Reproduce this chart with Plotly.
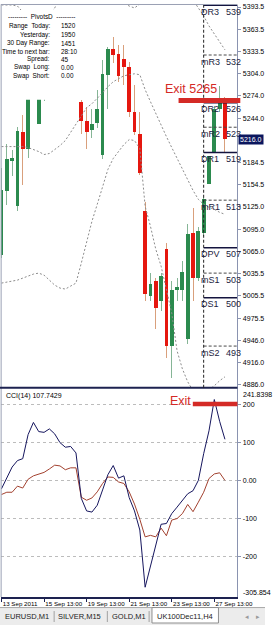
import numpy as np
import plotly.graph_objects as go

W, H = 279, 625

# ---------------- data ----------------
bar_index = list(range(43))
opens  = [5061, 5146, 5186, 5126, 5226, 5203, 5300, 5237, 5335, 5350,
          5372, 5360, 5378, 5365, 5375, 5266, 5240, 5228, 5238, 5195,
          5302, 5337, 5331, 5324, 5313, 5253, 5223, 5120, 5005, 5025,
          4998, 5069, 4938, 5013, 5014, 4948, 5090, 5029, 5090, 5156,
          5199, 5256, 5270]
highs  = [5177, 5209, 5202, 5232, 5248, 5300, 5310, 5345, 5365, 5380,
          5384, 5385, 5384, 5382, 5380, 5269, 5259, 5256, 5282, 5322,
          5340, 5353, 5343, 5343, 5320, 5289, 5253, 5132, 5036, 5029,
          5036, 5076, 5025, 5029, 5052, 5102, 5123, 5098, 5138, 5199,
          5260, 5288, 5273]
lows   = [5056, 5128, 5166, 5119, 5154, 5190, 5272, 5236, 5267, 5340,
          5350, 5352, 5358, 5355, 5330, 5223, 5203, 5217, 5231, 5189,
          5256, 5318, 5293, 5289, 5246, 5222, 5168, 4998, 4998, 4961,
          4985, 4922, 4895, 4998, 4998, 4941, 4998, 5025, 5086, 5139,
          5197, 5252, 5199]
closes = [5148, 5189, 5191, 5227, 5203, 5290, 5275, 5335, 5350, 5372,
          5360, 5378, 5365, 5375, 5350, 5241, 5226, 5237, 5257, 5304,
          5337, 5329, 5301, 5313, 5253, 5226, 5170, 5008, 5022, 4989,
          5032, 4938, 5014, 5017, 5038, 5088, 5029, 5093, 5135, 5193,
          5256, 5266, 5216]

bb_upper = [5396.2, 5396.2, 5396.2, 5394.8, 5386.8, 5382.8, 5381.5, 5381.5, 5381.5, 5382.8,
            5392.2, 5406.9, 5420.3, 5433.7, 5443.0, 5447.1, 5440.4, 5429.7, 5420.3, 5413.6,
            5408.2, 5404.2, 5401.5, 5398.9, 5394.8, 5392.2, 5397.5, 5440.4, 5453.8, 5460.5,
            5453.8, 5447.1, 5440.4, 5433.7, 5427.0, 5413.6, 5402.9, 5392.2, 5381.5, 5368.1,
            5357.3, 5346.6, 5336.0]
bb_middle = [5206.0, 5206.0, 5206.0, 5206.0, 5206.0, 5204.7, 5202.0, 5199.3, 5195.3, 5196.7,
             5202.0, 5207.4, 5214.1, 5224.8, 5236.8, 5247.5, 5258.2, 5263.6, 5270.3, 5278.3,
             5286.4, 5293.1, 5297.1, 5301.1, 5302.5, 5303.8, 5302.5, 5282.4, 5266.3, 5250.2,
             5234.2, 5219.4, 5204.7, 5190.0, 5175.3, 5161.9, 5147.1, 5135.1, 5128.4, 5124.4,
             5121.7, 5117.7, 5115.0]
bb_lower = [5022.6, 5024.0, 5025.3, 5026.6, 5029.3, 5032.0, 5034.7, 5036.0, 5033.3, 5026.6,
            5019.9, 5015.9, 5014.6, 5018.6, 5022.6, 5049.4, 5078.8, 5105.6, 5128.4, 5152.5,
            5175.3, 5190.0, 5199.4, 5208.7, 5215.4, 5214.1, 5203.4, 5125.7, 5098.9, 5068.1,
            5045.4, 5011.9, 4982.4, 4931.6, 4907.4, 4890.0, 4878.0, 4872.6, 4875.3, 4879.3,
            4884.7, 4891.4, 4896.7]

cci_main = [-22, 8, 35, 52, 57, 120, 152, 128, 126, 135,
            122, 99, 87, 89, 72, -47, -80, -83, -65, -25,
            15, 39, 6, 12, -45, -80, -130, -280, -225, -170,
            -115, -113, -87, -70, -53, -35, -27, 0, 70, 130,
            212, 155, 107.7429]
cci_signal = [-37, -31, -31, -15, -20, 3, 12, 17, 21, 30,
              40, 38, 28, 33, 33, -44, -52, -46, -30, -8,
              9, 8, -4, -8, -30, -62, -102, -148, -144, -148,
              -125, -145, -104, -100, -87, -63, -82, -57, -31, 5,
              17, 20, 0]

date_ticks = [0, 8, 16, 24, 32, 40]
date_labels = ["13 Sep 2011", "15 Sep 13:00", "19 Sep 13:00", "21 Sep 13:00", "23 Sep 13:00", "27 Sep 13:00"]

price_ticks = [5393.5, 5363.5, 5333.5, 5304.0, 5274.0, 5244.0, 5184.5, 5154.5, 5125.0,
               5095.0, 5065.0, 5035.5, 5005.5, 4975.5, 4946.0, 4916.0, 4886.0]
price_range = [4882.0, 5396.2]

cci_ticks = [200, 100, 0, -100, -200]
cci_tick_labels = ["200", "100", "0.00", "-100", "-200"]
cci_max, cci_min = 241.8398, -305.854

pivot_names = ["DR3", "mR3", "DR2", "mR2", "DR1", "mR1", "DPV", "mS1", "DS1", "mS2"]
pivot_levels = [5396, 5329, 5265, 5232, 5198, 5134, 5070, 5036, 5003, 4938]
pivot_text = ["539", "532", "526", "523", "519", "513", "507", "503", "500", "493"]
pivot_start = 38
current_price = 5216.0
exit_price_text = "Exit 5265"
exit_bar_level = 5268
cci_exit_level = 200
cci_title = "CCI(14) 107.7429"

info_labels = ["Range\u00a0\u00a0Today:", "Yesterday:", "30 Day Range:", "Time to next bar:",
               "Spread:", "Swap\u00a0\u00a0Long:", "Swap\u00a0\u00a0Short:"]
info_values = ["1520", "1950", "1451", "28:10", "45", "0.00", "0.00"]

tabs = ["EURUSD,M1", "SILVER,M15", "GOLD,M1", "UK100Dec11,H4"]

# ---------------- styles ----------------
FONT = "Liberation Sans, Arial, sans-serif"
BULL, BULL_WICK = "#2b8a4e", "#86b596"
BEAR, BEAR_WICK = "#e5170f", "#d9a07c"
BB_COLOR = "#8c8c8c"
CCI_COLOR = "#16165e"
SIG_COLOR = "#a2412f"
AX = "#8a93b0"
SEP = "#1d2250"
RED = "#d42a26"
XR = [-0.1, 44.35]


def px(xp):
    return xp / W


def py(yp):
    return 1 - yp / H


x = np.array(bar_index)
o, h, l, c = (np.array(v, dtype=float) for v in (opens, highs, lows, closes))
up = c >= o
dn = ~up

fig = go.Figure()

# Bollinger-style dashed bands
for band in (bb_upper, bb_middle, bb_lower):
    fig.add_trace(go.Scatter(x=bar_index, y=band, mode="lines",
                             line=dict(color=BB_COLOR, width=1, dash="2px,2px"),
                             hoverinfo="skip", xaxis="x", yaxis="y"))

# wicks
for mask, col in ((up, BULL_WICK), (dn, BEAR_WICK)):
    fig.add_trace(go.Bar(x=x[mask], y=(h - l)[mask], base=l[mask], width=0.18,
                         marker=dict(color=col, line=dict(width=0)),
                         hoverinfo="skip", xaxis="x", yaxis="y"))
# bodies
body_base = np.minimum(o, c)
body_h = np.maximum(np.abs(c - o), 1.5)
for mask, col in ((up, BULL), (dn, BEAR)):
    fig.add_trace(go.Bar(x=x[mask], y=body_h[mask], base=body_base[mask], width=0.72,
                         marker=dict(color=col, line=dict(width=0)),
                         hoverinfo="skip", xaxis="x", yaxis="y"))

# pivot lines
for name, lvl in zip(pivot_names, pivot_levels):
    solid = name.startswith("D")
    fig.add_trace(go.Scatter(x=[pivot_start, XR[1]], y=[lvl, lvl], mode="lines",
                             line=dict(color="#14143f" if solid else "#4a4a4a",
                                       width=1.6 if solid else 1,
                                       dash="solid" if solid else "3px,2px"),
                             hoverinfo="skip", xaxis="x", yaxis="y"))

# CCI lines
fig.add_trace(go.Scatter(x=bar_index, y=cci_signal, mode="lines",
                         line=dict(color=SIG_COLOR, width=1), hoverinfo="skip",
                         xaxis="x2", yaxis="y2"))
fig.add_trace(go.Scatter(x=bar_index, y=cci_main, mode="lines",
                         line=dict(color=CCI_COLOR, width=1), hoverinfo="skip",
                         xaxis="x2", yaxis="y2"))

shapes = []
# tab bar (below everything)
shapes.append(dict(type="rect", xref="paper", yref="paper", x0=0, x1=1, y0=0, y1=py(607.5),
                   fillcolor="#ececec", line=dict(width=0), layer="below"))
shapes.append(dict(type="line", xref="paper", yref="paper", x0=0, x1=1, y0=py(607.5), y1=py(607.5),
                   line=dict(color="#a8a8a8", width=1), layer="below"))
shapes.append(dict(type="rect", xref="paper", yref="paper", x0=px(160), x1=px(230), y0=py(623), y1=py(607.5),
                   fillcolor="white", line=dict(color="#8f8f8f", width=1), layer="below"))
for sx in (57, 113, 157):
    shapes.append(dict(type="line", xref="paper", yref="paper", x0=px(sx), x1=px(sx), y0=py(611), y1=py(622),
                       line=dict(color="#a0a0a0", width=1), layer="below"))
# frame
shapes.append(dict(type="line", xref="paper", yref="paper", x0=px(1), x1=px(250), y0=py(2.5), y1=py(2.5),
                   line=dict(color="#9aa0b4", width=1)))
shapes.append(dict(type="line", xref="paper", yref="paper", x0=px(1.2), x1=px(1.2), y0=py(2.5), y1=py(597),
                   line=dict(color="#9aa0b4", width=1)))
shapes.append(dict(type="line", xref="paper", yref="paper", x0=0, x1=px(250), y0=py(387), y1=py(387),
                   line=dict(color=SEP, width=2)))
# vertical day separator
shapes.append(dict(type="line", xref="x", yref="y domain", x0=pivot_start, x1=pivot_start, y0=0, y1=1,
                   line=dict(color="#202020", width=1, dash="3px,2px")))
# info panel background (hides candles behind it)
shapes.append(dict(type="rect", xref="paper", yref="paper", x0=px(2.5), x1=px(99), y0=py(98), y1=py(8),
                   fillcolor="white", line=dict(width=0), layer="above"))
# Exit bars
shapes.append(dict(type="line", xref="paper", yref="y", x0=px(188), x1=px(253), y0=exit_bar_level, y1=exit_bar_level,
                   line=dict(color=RED, width=5)))
shapes.append(dict(type="line", xref="paper", yref="y2", x0=px(203), x1=px(250), y0=cci_exit_level, y1=cci_exit_level,
                   line=dict(color=RED, width=4.5)))

ann = []
small = dict(family=FONT, size=7, color="#000000")
info_font = dict(family=FONT, size=6.4, color="#000000")
# info panel
ann.append(dict(x=px(44), y=py(15), xref="paper", yref="paper", text="---------\u00a0\u00a0PivotsD\u00a0\u00a0---------",
                showarrow=False, xanchor="center", yanchor="middle", font=info_font))
row_y = [24, 32.7, 41.3, 49.3, 57.3, 65.7, 74]
for lab, val, yy in zip(info_labels, info_values, row_y):
    ann.append(dict(x=px(54.5), y=py(yy), xref="paper", yref="paper", text=lab, showarrow=False,
                    xanchor="right", yanchor="middle", font=info_font))
    ann.append(dict(x=px(62), y=py(yy), xref="paper", yref="paper", text=val, showarrow=False,
                    xanchor="left", yanchor="middle", font=info_font))
# pivot labels
for name, lvl, txt in zip(pivot_names, pivot_levels, pivot_text):
    ann.append(dict(x=37.2, y=lvl, xref="x", yref="y", text=name, showarrow=False, xanchor="left",
                    yanchor="middle", yshift=-6.5, font=dict(family=FONT, size=9, color="#1c1c40")))
    ann.append(dict(x=41.85, y=lvl, xref="x", yref="y", text=txt, showarrow=False, xanchor="left",
                    yanchor="middle", yshift=-6.5, font=dict(family=FONT, size=9, color="#1c1c40")))
# exit labels
ann.append(dict(x=px(172), y=py(87.5), xref="paper", yref="paper", text=exit_price_text, showarrow=False,
                xanchor="left", yanchor="middle", font=dict(family=FONT, size=12.5, color=RED)))
ann.append(dict(x=px(177), y=py(400), xref="paper", yref="paper", text="Exit", showarrow=False,
                xanchor="left", yanchor="middle", font=dict(family=FONT, size=12.5, color=RED)))
# current price box
ann.append(dict(x=px(251), y=current_price, xref="paper", yref="y", text=f"{current_price:.1f}", showarrow=False,
                xanchor="left", yanchor="middle", bgcolor="#0b165e", borderpad=1,
                font=dict(family=FONT, size=7, color="white")))
# CCI title + extreme labels
ann.append(dict(x=px(4), y=py(395), xref="paper", yref="paper", text=cci_title, showarrow=False,
                xanchor="left", yanchor="middle", font=small))
ann.append(dict(x=px(254), y=py(393.5), xref="paper", yref="paper", text=f"{cci_max:.4f}", showarrow=False,
                xanchor="left", yanchor="middle", font=small))
ann.append(dict(x=px(254), y=py(592), xref="paper", yref="paper", text=f"{cci_min:.3f}", showarrow=False,
                xanchor="left", yanchor="middle", font=small))
# tabs
tab_x = [28, 84, 136, 195]
for t, tx in zip(tabs, tab_x):
    ann.append(dict(x=px(tx), y=py(616.5), xref="paper", yref="paper", text=t, showarrow=False,
                    xanchor="center", yanchor="middle", font=dict(family=FONT, size=7.5, color="#222222")))
ann.append(dict(x=px(260), y=py(616.5), xref="paper", yref="paper", text="\u25c2", showarrow=False,
                xanchor="center", yanchor="middle", font=dict(family=FONT, size=7, color="#9a9a9a")))
ann.append(dict(x=px(272), y=py(616.5), xref="paper", yref="paper", text="\u25b8", showarrow=False,
                xanchor="center", yanchor="middle", font=dict(family=FONT, size=7, color="#9a9a9a")))

fig.update_layout(
    width=W, height=H, autosize=False,
    margin=dict(l=0, r=0, t=0, b=0, pad=0),
    paper_bgcolor="white", plot_bgcolor="white",
    showlegend=False, barmode="overlay", bargap=0,
    font=dict(family=FONT, size=7, color="#000000"),
    hovermode=False,
    xaxis=dict(domain=[px(1), px(250)], range=XR, anchor="y", showticklabels=False, ticks="",
               showgrid=False, zeroline=False, showline=False, fixedrange=True),
    yaxis=dict(domain=[py(387), py(3)], range=price_range, side="right", anchor="x",
               showline=True, linecolor=AX, linewidth=1, ticks="outside", ticklen=3, tickcolor=AX,
               tickvals=price_ticks, ticktext=[f"{v:.1f}" for v in price_ticks],
               tickfont=small, showgrid=False, zeroline=False, fixedrange=True),
    xaxis2=dict(domain=[px(1), px(250)], range=XR, matches="x", anchor="y2",
                showline=True, linecolor=SEP, linewidth=1.5, ticks="outside", ticklen=3, tickcolor=SEP,
                tickvals=date_ticks, ticktext=date_labels, ticklabelposition="outside right",
                tickangle=0, tickfont=dict(family=FONT, size=6.2, color="#000000"),
                showgrid=False, zeroline=False, fixedrange=True),
    yaxis2=dict(domain=[py(597), py(387.4)], range=[cci_min, cci_max], side="right", anchor="x2",
                showline=True, linecolor=AX, linewidth=1, ticks="outside", ticklen=3, tickcolor=AX,
                tickvals=cci_ticks, ticktext=cci_tick_labels, tickfont=small,
                showgrid=True, gridcolor="#bcbcbc", gridwidth=1, griddash="dot",
                zeroline=False, fixedrange=True),
    shapes=shapes,
    annotations=ann,
)

fig.write_html("out.html", config=dict(displayModeBar=False, staticPlot=True))
